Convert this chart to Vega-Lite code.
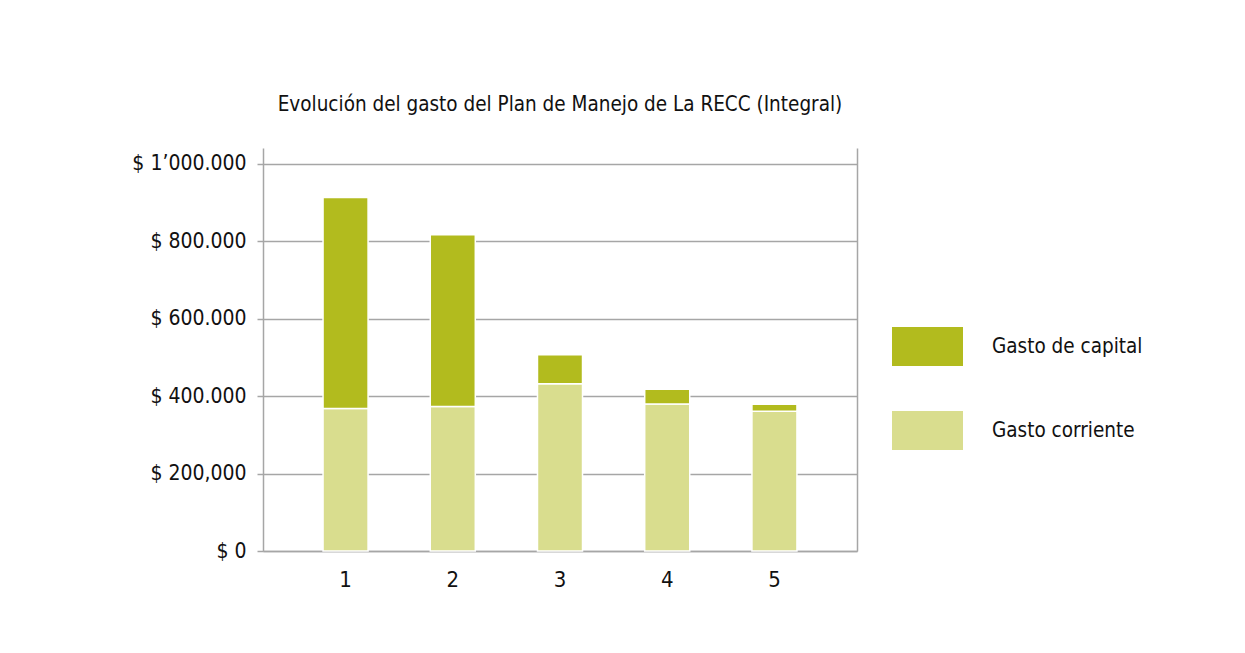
{
  "$schema": "https://vega.github.io/schema/vega-lite/v6.json",
  "width": 594,
  "height": 403,
  "autosize": {"type": "none"},
  "padding": {"left": 263, "top": 148, "right": 388, "bottom": 102},
  "background": "white",
  "config": {
    "font": "DejaVu Sans Condensed",
    "view": {"stroke": null}
  },
  "title": {
    "text": "Evolución del gasto del Plan de Manejo de La RECC (Integral)",
    "anchor": "middle",
    "frame": "group",
    "baseline": "alphabetic",
    "offset": 17,
    "fontSize": 20.5,
    "fontWeight": "normal",
    "font": "DejaVu Sans Condensed",
    "color": "#111111"
  },
  "data": {
    "values": [
      {"periodo": "1", "tipo": "Gasto corriente", "orden": 1, "valor": 368000},
      {"periodo": "1", "tipo": "Gasto de capital", "orden": 2, "valor": 545000},
      {"periodo": "2", "tipo": "Gasto corriente", "orden": 1, "valor": 373000},
      {"periodo": "2", "tipo": "Gasto de capital", "orden": 2, "valor": 444000},
      {"periodo": "3", "tipo": "Gasto corriente", "orden": 1, "valor": 432000},
      {"periodo": "3", "tipo": "Gasto de capital", "orden": 2, "valor": 75000},
      {"periodo": "4", "tipo": "Gasto corriente", "orden": 1, "valor": 380000},
      {"periodo": "4", "tipo": "Gasto de capital", "orden": 2, "valor": 38000},
      {"periodo": "5", "tipo": "Gasto corriente", "orden": 1, "valor": 361000},
      {"periodo": "5", "tipo": "Gasto de capital", "orden": 2, "valor": 18000}
    ]
  },
  "layer": [
    {
      "mark": {"type": "bar", "stroke": "white", "strokeWidth": 1.5},
      "encoding": {
        "x": {
          "field": "periodo",
          "type": "ordinal",
          "scale": {"paddingInner": 0.58, "paddingOuter": 0.56},
          "axis": {
            "title": null,
            "labelAngle": 0,
            "ticks": false,
            "domain": true,
            "domainColor": "#a6a6a6",
            "domainWidth": 1.5,
            "labelFontSize": 22,
            "labelColor": "#111111",
            "labelPadding": 18,
            "labelFont": "DejaVu Sans Condensed"
          }
        },
        "y": {
          "field": "valor",
          "type": "quantitative",
          "stack": "zero",
          "scale": {"domain": [0, 1041000], "nice": false},
          "axis": {
            "title": null,
            "values": [0, 200000, 400000, 600000, 800000, 1000000],
            "labelExpr": "datum.value == 0 ? '$ 0' : datum.value == 200000 ? '$ 200,000' : datum.value == 1000000 ? '$ 1’000.000' : '$ ' + format(datum.value / 1000, 'd') + '.000'",
            "grid": true,
            "gridColor": "#a6a6a6",
            "gridWidth": 1.5,
            "domain": true,
            "domainColor": "#a6a6a6",
            "domainWidth": 1.5,
            "ticks": true,
            "tickColor": "#a6a6a6",
            "tickWidth": 1.5,
            "tickSize": 6,
            "labelPadding": 11,
            "labelFontSize": 21,
            "labelColor": "#111111",
            "labelFont": "DejaVu Sans Condensed"
          }
        },
        "color": {
          "field": "tipo",
          "type": "nominal",
          "scale": {
            "domain": ["Gasto de capital", "Gasto corriente"],
            "range": ["#b2bb1e", "#d9dd8e"]
          },
          "legend": {
            "title": null,
            "orient": "none",
            "legendX": 629,
            "legendY": 163,
            "padding": 0,
            "symbolType": "M-1,-0.55H1V0.55H-1Z",
            "symbolSize": 5041,
            "symbolStrokeWidth": 0,
            "symbolOpacity": 1,
            "labelOffset": 29,
            "labelFontSize": 20.5,
            "labelColor": "#111111",
            "labelFont": "DejaVu Sans Condensed",
            "rowPadding": 28,
            "labelLimit": 300
          }
        },
        "order": {"field": "orden", "type": "quantitative"}
      }
    },
    {
      "mark": {"type": "bar", "opacity": 0},
      "encoding": {
        "x": {"field": "periodo", "type": "ordinal"},
        "y": {
          "field": "valor",
          "type": "quantitative",
          "stack": "zero",
          "axis": {
            "orient": "right",
            "title": null,
            "labels": false,
            "ticks": false,
            "grid": false,
            "domain": true,
            "domainColor": "#a6a6a6",
            "domainWidth": 1.5
          }
        }
      }
    }
  ],
  "resolve": {"axis": {"y": "independent"}}
}
